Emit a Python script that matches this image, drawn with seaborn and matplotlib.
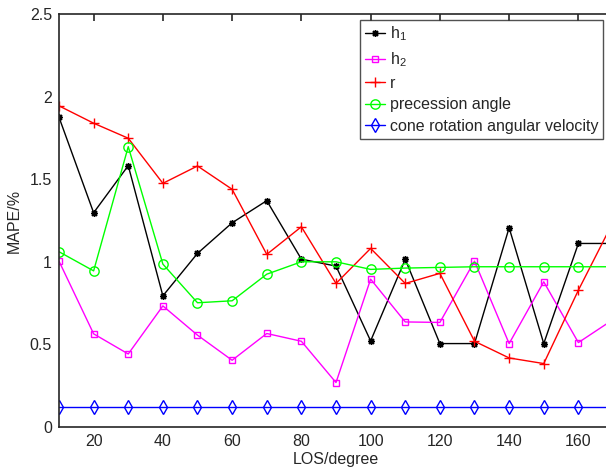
import matplotlib
matplotlib.use('Agg')
import pandas as pd
import matplotlib.pyplot as plt
import seaborn as sns

# LOS angles (degree)
los = [10, 20, 30, 40, 50, 60, 70, 80, 90, 100, 110, 120, 130, 140, 150, 160, 170]

# MAPE (%) for each estimated parameter
h1 = [1.875, 1.297, 1.582, 0.794, 1.051, 1.236, 1.37, 1.016, 0.974, 0.521, 1.015,
      0.505, 0.505, 1.206, 0.505, 1.111, 1.111]
h2 = [1.004, 0.564, 0.442, 0.733, 0.556, 0.404, 0.566, 0.519, 0.269, 0.895, 0.636,
      0.633, 1.004, 0.505, 0.879, 0.511, 0.65]
r = [1.944, 1.839, 1.748, 1.475, 1.58, 1.439, 1.045, 1.212, 0.869, 1.081, 0.869,
     0.93, 0.519, 0.418, 0.384, 0.828, 1.24]
precession = [1.061, 0.945, 1.697, 0.986, 0.752, 0.764, 0.925, 1.0, 1.0, 0.954, 0.962,
              0.966, 0.97, 0.97, 0.97, 0.97, 0.97]
cone_rot = [0.121] * 17

labels = ['h$_{\\mathregular{1}}$', 'h$_{\\mathregular{2}}$', 'r',
          'precession angle', 'cone rotation angular velocity']
colors = ['black', 'magenta', 'red', '#00ff00', 'blue']
markers = [(8, 2, 0), 's', '+', 'o', 'd']
msizes = [5, 5, 7, 6.7, 7.5]

xticks = [20, 40, 60, 80, 100, 120, 140, 160]
yticks = [0, 0.5, 1, 1.5, 2, 2.5]
yticklabels = ['0', '0.5', '1', '1.5', '2', '2.5']

sns.set_style('white')
plt.rcParams['font.family'] = ['Liberation Sans', 'DejaVu Sans']
plt.rcParams['mathtext.fontset'] = 'custom'
plt.rcParams['mathtext.rm'] = 'Liberation Sans'

fig = plt.figure(figsize=(6.06, 4.74), dpi=100)
# axes run past the right edge, like the cropped original
ax = fig.add_axes([59 / 606, 47 / 474, 554 / 606, 413 / 474])

series = [h1, h2, r, precession, cone_rot]
for vals, lab, c, m, ms in zip(series, labels, colors, markers, msizes):
    df = pd.DataFrame({'LOS': los, 'MAPE': vals})
    sns.lineplot(data=df, x='LOS', y='MAPE', ax=ax, color=c, marker=m,
                 markersize=ms, markerfacecolor='none' if m in ('s', 'o', 'd') else c,
                 markeredgecolor=c, markeredgewidth=1.0, linewidth=1.0, label=lab)

ax.set_xlim(10, 170)
ax.set_ylim(0, 2.5)
ax.set_xticks(xticks)
ax.set_yticks(yticks)
ax.set_yticklabels(yticklabels)
ax.tick_params(direction='in', length=5, width=1.2, top=True, right=False,
               labelsize=11.5, colors='#262626', pad=5)
for s in ax.spines.values():
    s.set_color('#262626')
    s.set_linewidth(1.2)
ax.set_xlabel('LOS/degree', fontsize=11.5, color='#262626', labelpad=2)
ax.set_ylabel('MAPE/%', fontsize=11.5, color='#262626', labelpad=6)

leg = ax.legend(loc='upper right', bbox_to_anchor=(603 / 606, 1 - 20 / 474),
                bbox_transform=fig.transFigure, borderaxespad=0, fontsize=11.5,
                frameon=True, fancybox=False, handlelength=1.25, handletextpad=0.3,
                labelspacing=0.42, borderpad=0.3)
leg.get_frame().set_edgecolor('#262626')
leg.get_frame().set_linewidth(1.0)

fig.savefig('out.png', dpi=100)
